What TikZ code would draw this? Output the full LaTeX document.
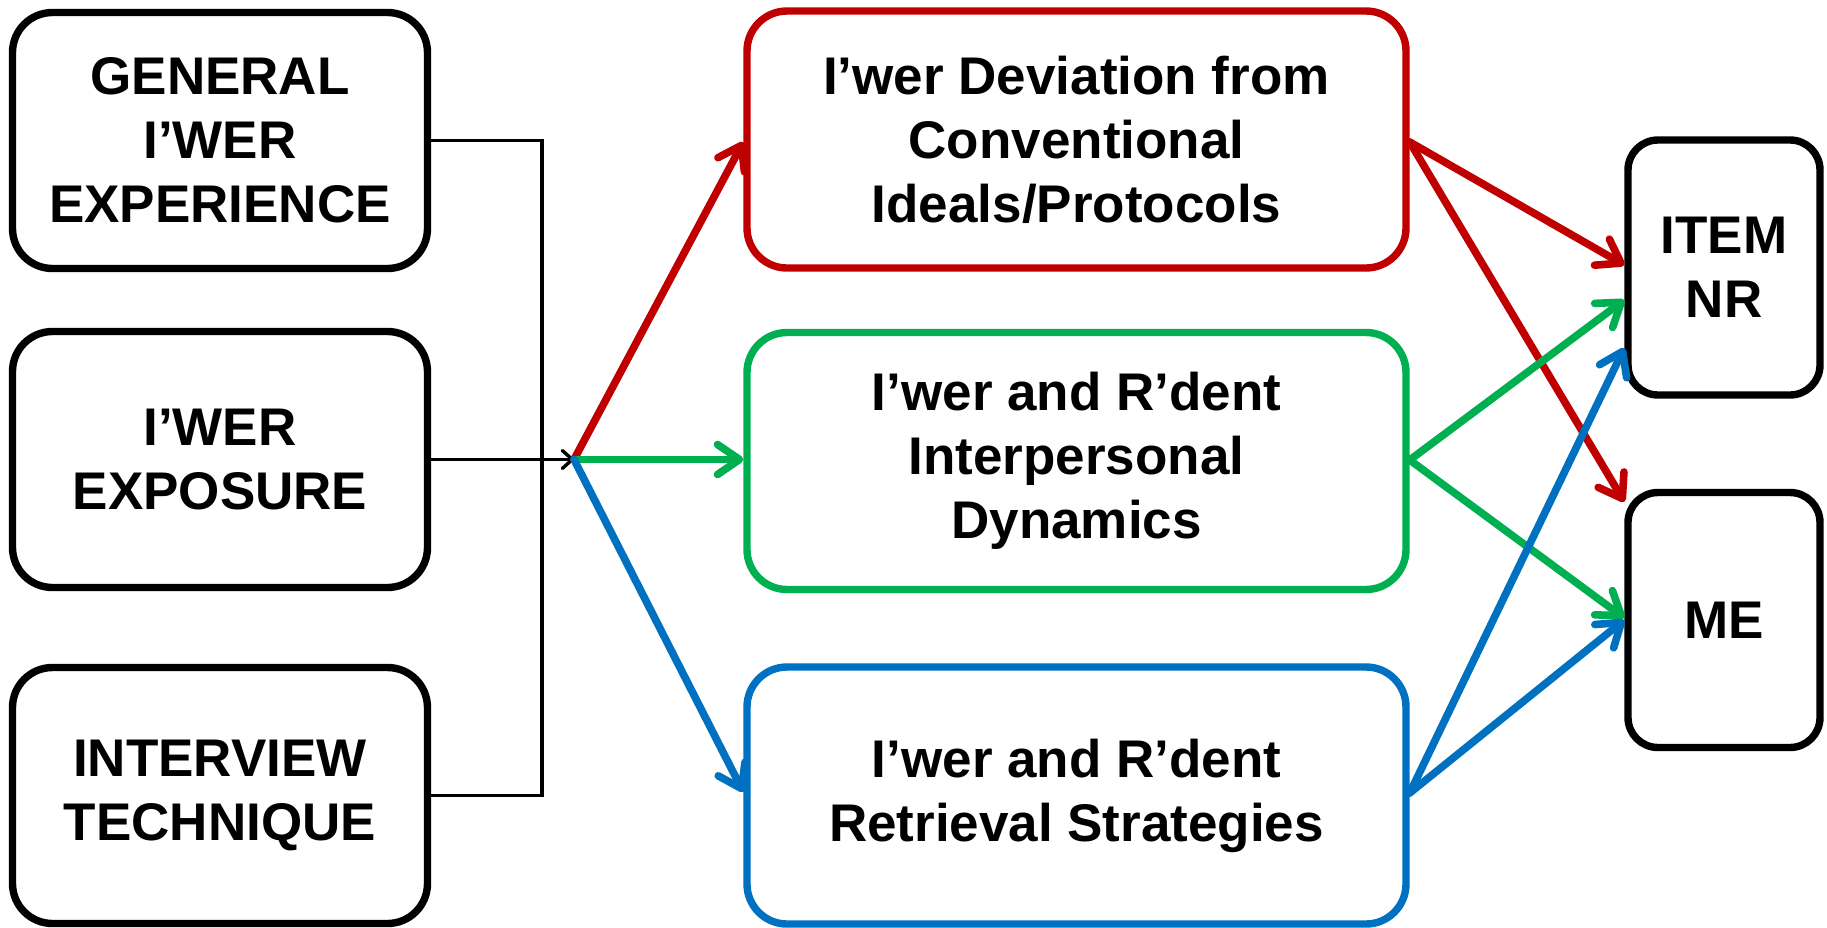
\documentclass[tikz,border=0pt]{standalone}
\usepackage{fontspec}
\setmainfont{Liberation Sans}
\usetikzlibrary{arrows.meta,calc}
\definecolor{cred}{HTML}{C00000}
\definecolor{cgreen}{HTML}{00B050}
\definecolor{cblue}{HTML}{0070C0}
\begin{document}
\begin{tikzpicture}[x=0.5pt,y=-0.5pt,
  box/.style={draw=black,line width=3.7pt,rounded corners=20pt,align=center,inner sep=0pt,
    font=\fontsize{26.5}{32}\selectfont\bfseries},
  leftbox/.style={box,minimum width=207.5pt,minimum height=128pt},
  midbox/.style={box,minimum width=329.5pt,minimum height=128.5pt},
  rightbox/.style={box,rounded corners=15pt,minimum width=96pt,minimum height=127.5pt},
  conn/.style={line width=1.7pt,black},
  thinarrow/.style={conn,-{Straight Barb[length=5pt,width=9pt,round]}},
  colarrow/.style={line width=3.8pt,line cap=round,-{Straight Barb[length=11pt,width=15pt,round]}}]
\useasboundingbox (0,0) rectangle (1827,927);
% left boxes
\node[leftbox] (b1) at (220,140.5) {GENERAL\\I’WER\\EXPERIENCE};
\node[leftbox] (b2) at (220,459.5) {I’WER\\EXPOSURE};
\node[leftbox] (b3) at (220,795.5) {INTERVIEW\\TECHNIQUE};
% middle boxes
\node[midbox,draw=cred] (red) at (1076.5,139.5) {I’wer Deviation from\\Conventional\\Ideals/Protocols};
\node[midbox,draw=cgreen] (green) at (1076.5,461) {I’wer and R’dent\\Interpersonal\\Dynamics};
\node[midbox,draw=cblue] (blue) at (1076.5,795.5) {I’wer and R’dent\\Retrieval Strategies};
% right boxes
\node[rightbox] (nr) at (1724,267.5) {ITEM\\NR};
\node[rightbox] (me) at (1724,620) {ME};
% junction
\coordinate (j) at (542,459.5);
\coordinate (hub) at (574,459.5);
\draw[conn] (b1.east) -| (j) |- (b3.east);
\draw[thinarrow] (b2.east) -- (hub);
% hub to middle
\draw[colarrow,cred] (hub) -- ($(red.west)+(0,2.5)$);
\draw[colarrow,cgreen] (hub) -- ($(green.west)+(0,-1.5)$);
\draw[colarrow,cblue] (hub) -- ($(blue.west)+(0,-3.5)$);
% middle to right
\draw[colarrow,cred] ($(red.east)+(0,2.5)$) -- ($(nr.west)+(0,-2.5)$);
\draw[colarrow,cred] ($(red.east)+(0,2.5)$) -- ($(me.north west)+(0,13)$);
\draw[colarrow,cgreen] ($(green.east)+(0,-1)$) -- ($(nr.west)+(0,32.5)$);
\draw[colarrow,cgreen] ($(green.east)+(0,-1)$) -- ($(me.west)+(0,-2)$);
\draw[colarrow,cblue] ($(blue.east)+(0,-2.5)$) -- ($(nr.west)+(0,80.5)$);
\draw[colarrow,cblue] ($(blue.east)+(0,-2.5)$) -- (me.west);
\end{tikzpicture}
\end{document}
